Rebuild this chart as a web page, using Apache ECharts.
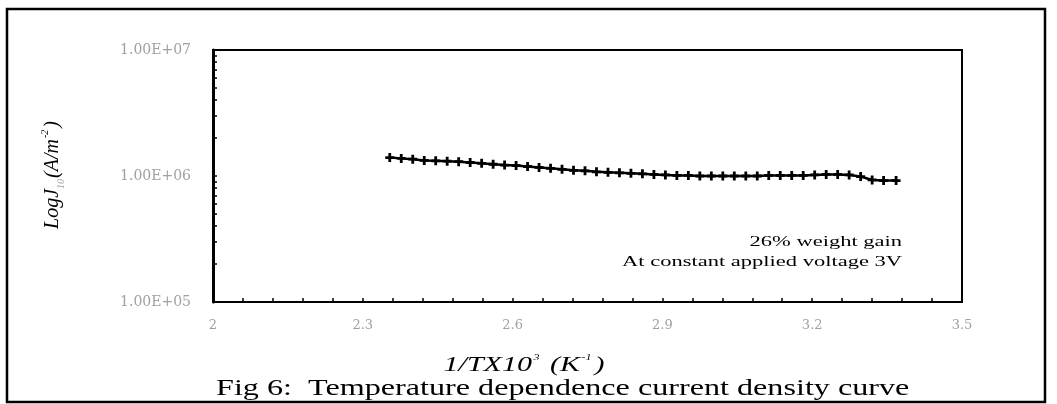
<!DOCTYPE html>
<html>
<head>
<meta charset="utf-8">
<script src="https://cdn.jsdelivr.net/npm/echarts@6/dist/echarts.min.js"></script>
<style>
  html, body { margin: 0; padding: 0; background: #fff; }
  #chart { width: 1057px; height: 404px; }
</style>
</head>
<body>
<div id="chart"></div>
<script>
// ---- data ----
const invTemp = [2.354, 2.377, 2.400, 2.423, 2.446, 2.469, 2.492, 2.515, 2.538, 2.561,
                 2.584, 2.607, 2.630, 2.653, 2.676, 2.699, 2.722, 2.745, 2.768, 2.791,
                 2.814, 2.837, 2.860, 2.883, 2.906, 2.929, 2.952, 2.975, 2.998, 3.021,
                 3.044, 3.067, 3.090, 3.113, 3.136, 3.159, 3.182, 3.205, 3.228, 3.251,
                 3.274, 3.297, 3.320, 3.343, 3.368];
const currentDensity = [1.40e6, 1.38e6, 1.36e6, 1.33e6, 1.32e6, 1.31e6, 1.30e6, 1.28e6, 1.26e6, 1.24e6,
                        1.22e6, 1.21e6, 1.19e6, 1.17e6, 1.15e6, 1.13e6, 1.11e6, 1.10e6, 1.08e6, 1.07e6,
                        1.06e6, 1.05e6, 1.04e6, 1.03e6, 1.02e6, 1.01e6, 1.01e6, 1.00e6, 1.00e6, 1.00e6,
                        1.00e6, 1.00e6, 1.00e6, 1.01e6, 1.01e6, 1.01e6, 1.01e6, 1.02e6, 1.03e6, 1.03e6,
                        1.02e6, 0.99e6, 0.93e6, 0.92e6, 0.92e6];
const xTickValues = [2, 2.3, 2.6, 2.9, 3.2, 3.5];
const xMinorTicks = [2, 2.06, 2.12, 2.18, 2.24, 2.3, 2.36, 2.42, 2.48, 2.54, 2.6, 2.66, 2.72, 2.78, 2.84,
                     2.9, 2.96, 3.02, 3.08, 3.14, 3.2, 3.26, 3.32, 3.38, 3.44, 3.5];
const yTickValues = [1e5, 1e6, 1e7];
const yTickLabels = ['1.00E+05', '1.00E+06', '1.00E+07'];
const yMinorTicks = [1e5, 2e5, 3e5, 4e5, 5e5, 6e5, 7e5, 8e5, 9e5,
                     1e6, 2e6, 3e6, 4e6, 5e6, 6e6, 7e6, 8e6, 9e6, 1e7];
const annotationLines = ['26% weight gain', 'At constant applied voltage 3V'];
const captionText = 'Fig 6:  Temperature dependence current density curve';

const chart = echarts.init(document.getElementById('chart'), null, { renderer: 'canvas' });

const points = invTemp.map((x, i) => [x, currentDensity[i]]);
const serif = '"Liberation Serif", "Times New Roman", serif';

const option = {
  backgroundColor: '#ffffff',
  animation: false,
  grid: {
    left: 213, right: 95, top: 50, bottom: 102,
    containLabel: false,
    outerBoundsMode: 'none',
    show: true,
    borderColor: '#000',
    borderWidth: 2,
    backgroundColor: 'transparent'
  },
  xAxis: {
    type: 'value',
    min: 2, max: 3.5,
    splitLine: { show: false },
    axisLine: { show: true, onZero: false, lineStyle: { color: '#000', width: 2 } },
    axisTick: { show: true, inside: true, length: 4, customValues: xMinorTicks,
                lineStyle: { color: '#000', width: 1.5 } },
    axisLabel: { customValues: xTickValues, margin: 17, color: '#a0a0a0',
                 fontFamily: '"DejaVu Serif", serif', fontSize: 13 }
  },
  yAxis: {
    type: 'log',
    logBase: 10,
    min: 1e5, max: 1e7,
    splitLine: { show: false },
    axisLine: { show: true, lineStyle: { color: '#000', width: 3 } },
    axisTick: { show: true, inside: true, length: 4, customValues: yMinorTicks,
                lineStyle: { color: '#000', width: 1.5 } },
    axisLabel: {
      customValues: yTickValues,
      margin: 22, color: '#a0a0a0',
      fontFamily: '"DejaVu Serif", serif', fontSize: 14,
      formatter: function (v) {
        const i = yTickValues.findIndex(t => Math.abs(Math.log10(t) - Math.log10(v)) < 1e-6);
        return i >= 0 ? yTickLabels[i] : '';
      }
    }
  },
  series: [{
    type: 'line',
    data: points,
    symbol: 'path://M-1.4,-4.5H1.4V-1.4H4.5V1.4H1.4V4.5H-1.4V1.4H-4.5V-1.4H-1.4Z',
    symbolSize: 9,
    showAllSymbol: true,
    lineStyle: { color: '#000', width: 2.5 },
    itemStyle: { color: '#000' },
    z: 5
  }],
  graphic: [
    {
      type: 'rect', silent: true,
      shape: { x: 7, y: 9, width: 1038, height: 393 },
      style: { fill: 'none', stroke: '#000', lineWidth: 2.5 }
    },
    {
      type: 'text', silent: true,
      x: 53, y: 175, rotation: Math.PI / 2,
      style: {
        text: '{m|LogJ}{s|10}{m|(A/m}{p|-2}{m|)}',
        align: 'center', verticalAlign: 'middle',
        rich: {
          m: { fontFamily: serif, fontStyle: 'italic', fontSize: 20, fill: '#000', lineHeight: 26, verticalAlign: 'middle' },
          s: { fontFamily: serif, fontStyle: 'italic', fontSize: 10, fill: '#999', lineHeight: 26, verticalAlign: 'bottom', padding: [0, 1, 0, 0] },
          p: { fontFamily: serif, fontStyle: 'italic', fontSize: 10, fill: '#000', lineHeight: 26, verticalAlign: 'top', padding: [0, 2, 0, 1] }
        }
      }
    },
    {
      type: 'text', silent: true,
      x: 524, y: 366, scaleX: 1.5,
      style: {
        text: '{m|1/TX10}{p|3}{m| (K}{p|-1}{m|)}',
        align: 'center', verticalAlign: 'middle',
        rich: {
          m: { fontFamily: serif, fontStyle: 'italic', fontSize: 20, fill: '#000', lineHeight: 24, verticalAlign: 'middle' },
          p: { fontFamily: serif, fontStyle: 'italic', fontSize: 8, fill: '#000', lineHeight: 24, verticalAlign: 'top', padding: [0, 2, 0, 1] }
        }
      }
    },
    {
      type: 'text', silent: true,
      x: 216, y: 389, scaleX: 1.34,
      style: {
        text: captionText,
        align: 'left', verticalAlign: 'middle',
        fontFamily: serif, fontSize: 24, fill: '#000'
      }
    },
    {
      type: 'text', silent: true,
      x: 902, y: 242, scaleX: 1.5,
      style: {
        text: annotationLines[0],
        align: 'right', verticalAlign: 'middle',
        fontFamily: serif, fontSize: 15, fill: '#000'
      }
    },
    {
      type: 'text', silent: true,
      x: 902, y: 262, scaleX: 1.5,
      style: {
        text: annotationLines[1],
        align: 'right', verticalAlign: 'middle',
        fontFamily: serif, fontSize: 15, fill: '#000'
      }
    }
  ]
};

chart.setOption(option);
</script>
</body>
</html>
